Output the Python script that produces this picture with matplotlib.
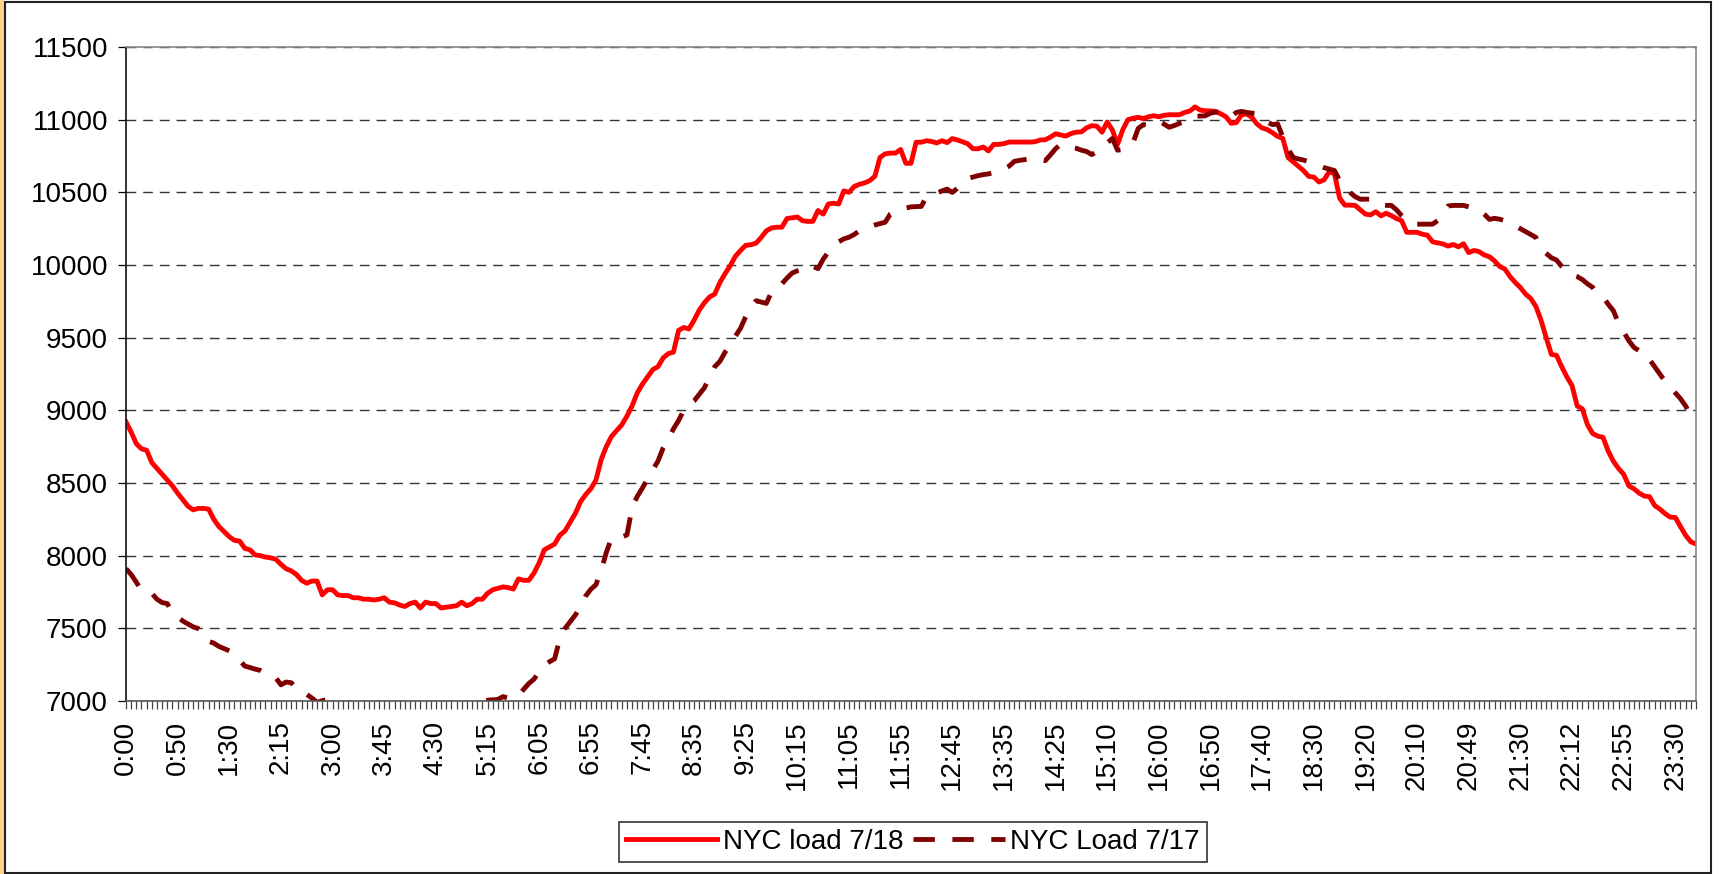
import matplotlib
matplotlib.use("Agg")
import matplotlib.pyplot as plt
from matplotlib.patches import Rectangle
import numpy as np

plt.rcParams['font.family'] = ['Liberation Sans', 'DejaVu Sans']

# NYC load, one value per reading (roughly every 5 minutes)
load_718 = [
    8920, 8850, 8770, 8735, 8725, 8640, 8600, 8560, 8520, 8480,
    8430, 8385, 8340, 8315, 8325, 8325, 8320, 8250, 8200, 8165,
    8130, 8105, 8100, 8050, 8040, 8005, 8000, 7990, 7985, 7975,
    7940, 7910, 7895, 7870, 7830, 7810, 7825, 7825, 7730, 7765,
    7765, 7730, 7725, 7725, 7710, 7710, 7700, 7700, 7695, 7700,
    7710, 7680, 7675, 7660, 7650, 7670, 7680, 7640, 7680, 7670,
    7670, 7640, 7645, 7650, 7655, 7680, 7655, 7670, 7700, 7700,
    7740, 7765, 7775, 7785, 7780, 7770, 7840, 7830, 7830, 7880,
    7950, 8040, 8060, 8080, 8140, 8170, 8230, 8290, 8370, 8420,
    8460, 8520, 8660, 8750, 8820, 8860, 8900, 8960, 9030, 9120,
    9180, 9230, 9280, 9300, 9360, 9390, 9400, 9550, 9570, 9560,
    9620, 9690, 9740, 9780, 9800, 9880, 9940, 9995, 10060, 10100,
    10135, 10140, 10150, 10190, 10235, 10255, 10260, 10260, 10320, 10325,
    10330, 10305, 10300, 10300, 10375, 10350, 10420, 10425, 10420, 10510,
    10500, 10540, 10555, 10565, 10580, 10610, 10740, 10765, 10770, 10770,
    10795, 10700, 10700, 10845, 10845, 10855, 10850, 10840, 10855, 10842,
    10870, 10860, 10848, 10834, 10800, 10800, 10812, 10785, 10830, 10830,
    10835, 10846, 10846, 10846, 10846, 10846, 10848, 10860, 10862, 10880,
    10903, 10895, 10887, 10905, 10914, 10916, 10944, 10959, 10955, 10914,
    10984, 10928, 10830, 10930, 11000, 11010, 11016, 11007, 11020, 11027,
    11020, 11030, 11034, 11034, 11034, 11050, 11060, 11088, 11066, 11061,
    11060, 11057, 11040, 11020, 10975, 10980, 11034, 11040, 11016, 10970,
    10943, 10932, 10910, 10885, 10871, 10740, 10710, 10680, 10650, 10610,
    10605, 10571, 10586, 10643, 10627, 10460, 10412, 10412, 10410, 10380,
    10350, 10345, 10367, 10338, 10356, 10340, 10320, 10305, 10225, 10225,
    10225, 10212, 10205, 10160, 10152, 10145, 10130, 10141, 10125, 10146,
    10085, 10100, 10092, 10069, 10057, 10028, 9990, 9972, 9920, 9880,
    9845, 9800, 9770, 9715, 9620, 9500, 9385, 9378, 9300, 9230,
    9170, 9030, 9010, 8900, 8840, 8822, 8814, 8720, 8650, 8600,
    8560, 8480, 8460, 8430, 8410, 8406, 8345, 8320, 8290, 8265,
    8263, 8200, 8140, 8095, 8080,
]

load_717 = [
    7910, 7870, 7817, 7760, 7747, 7740, 7700, 7677, 7670, 7600,
    7580, 7550, 7530, 7510, 7498, 7479, 7410, 7398, 7375, 7360,
    7345, 7320, 7280, 7240, 7230, 7219, 7210, 7190, 7180, 7160,
    7111, 7130, 7125, 7083, 7070, 7045, 7020, 6990, 7002, 7010,
    6990, 6960, 6940, 6920, 6900, 6890, 6880, 6870, 6860, 6850,
    6840, 6840, 6830, 6830, 6820, 6820, 6820, 6830, 6830, 6840,
    6850, 6860, 6870, 6880, 6900, 6910, 6930, 6950, 6970, 6990,
    7005, 7008, 7010, 7030, 7020, 7030, 7035, 7080, 7120, 7150,
    7200, 7245, 7270, 7290, 7430, 7499, 7545, 7591, 7650, 7722,
    7768, 7800, 7897, 8021, 8120, 8125, 8127, 8143, 8330, 8408,
    8465, 8530, 8590, 8650, 8740, 8800, 8872, 8930, 9000, 9040,
    9065, 9110, 9155, 9230, 9300, 9337, 9400, 9451, 9510, 9565,
    9645, 9700, 9754, 9745, 9736, 9815, 9831, 9870, 9910, 9945,
    9960, 9970, 10000, 9990, 9975, 10040, 10089, 10130, 10160, 10180,
    10191, 10210, 10235, 10255, 10262, 10275, 10285, 10294, 10351, 10370,
    10385, 10392, 10400, 10402, 10403, 10470, 10480, 10495, 10510, 10522,
    10499, 10528, 10560, 10597, 10605, 10615, 10622, 10627, 10635, 10643,
    10660, 10680, 10713, 10720, 10725, 10730, 10736, 10725, 10718, 10758,
    10800, 10831, 10820, 10810, 10803, 10790, 10781, 10760, 10780, 10812,
    10840, 10871, 10790, 10795, 10808, 10842, 10940, 10966, 10962, 10975,
    10989, 10970, 10948, 10960, 10975, 10984, 11005, 11023, 11025, 11027,
    11045, 11052, 11050, 11045, 11023, 11050, 11057, 11050, 11045, 11041,
    11010, 10984, 10966, 10971, 10880, 10800, 10740, 10730, 10722, 10710,
    10700, 10684, 10670, 10660, 10650, 10582, 10537, 10500, 10470, 10453,
    10453, 10453, 10430, 10412, 10410, 10410, 10380, 10340, 10310, 10299,
    10281, 10281, 10281, 10281, 10306, 10360, 10406, 10410, 10410, 10410,
    10400, 10390, 10380, 10350, 10314, 10321, 10315, 10305, 10290, 10270,
    10250, 10230, 10210, 10190, 10108, 10080, 10050, 10034, 9990, 9960,
    9931, 9920, 9900, 9870, 9846, 9800, 9782, 9730, 9686, 9600,
    9540, 9479, 9433, 9410, 9403, 9350, 9300, 9250, 9200, 9160,
    9121, 9080, 9030, 8960, 8930,
]

# category labels shown on the axis (every 10th reading)
time_labels = [
    "0:00", "0:50", "1:30", "2:15", "3:00", "3:45", "4:30", "5:15", "6:05",
    "6:55", "7:45", "8:35", "9:25", "10:15", "11:05", "11:55", "12:45",
    "13:35", "14:25", "15:10", "16:00", "16:50", "17:40", "18:30", "19:20",
    "20:10", "20:49", "21:30", "22:12", "22:55", "23:30",
]
label_step = 10

x = np.arange(len(load_718))

fig = plt.figure(figsize=(17.19, 8.74), dpi=100)
ax = fig.add_axes([0.0733, 0.198, 0.9133, 0.7482])

ax.plot(x, load_718, color="#FF0000", lw=3.5, label="NYC load 7/18", solid_joinstyle="round")
ax.plot(x, load_717, color="#800000", lw=3.5, dashes=(4.4, 3.6), label="NYC Load 7/17")

ax.set_xlim(0, len(x) - 1)
ax.set_ylim(7000, 11500)
ax.set_yticks(range(7000, 11501, 500))
ax.yaxis.grid(True, linestyle=(0, (7, 5)), color="#333333", lw=1)
ax.set_axisbelow(True)

ax.set_xticks(x, minor=True)
ax.set_xticks(x[::label_step][:len(time_labels)])
ax.set_xticklabels(time_labels, rotation=90)
ax.tick_params(axis="x", which="both", length=6, width=0.9, color="#444444", direction="out")
ax.tick_params(axis="x", which="major", pad=8, labelsize=20)
ax.tick_params(axis="y", length=6, width=0.9, pad=7, labelsize=20)

ax.spines["left"].set_color("#111111")
ax.spines["bottom"].set_color("#555555")
ax.spines["top"].set_color("#888888")
ax.spines["right"].set_color("#888888")
for s in ax.spines.values():
    s.set_linewidth(1.2)

leg = ax.legend(loc="center", bbox_to_anchor=(0.531, 0.0366), bbox_transform=fig.transFigure,
                ncol=2, fontsize=20, frameon=True, fancybox=False, handlelength=3.3,
                handletextpad=0.2, columnspacing=0.35, borderpad=0.25, borderaxespad=0)
leg.get_frame().set_edgecolor("black")
leg.get_frame().set_linewidth(1.2)

# outer chart frame, orange edge on the left like the source sheet
fig.patches.append(Rectangle((0, 0), 0.0026, 1, transform=fig.transFigure,
                             facecolor="#FFD38A", edgecolor="none"))
fig.patches.append(Rectangle((0.003, 0.0015), 0.9924, 0.9962, transform=fig.transFigure,
                             facecolor="none", edgecolor="#222222", lw=1.5))

plt.savefig("out.png", dpi=100)
